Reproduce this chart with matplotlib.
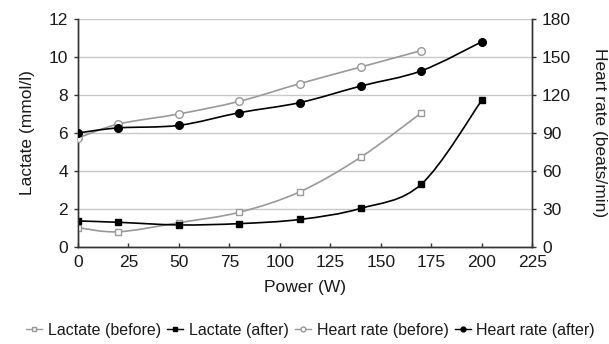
import matplotlib
matplotlib.use('Agg')
import matplotlib.pyplot as plt
from matplotlib.path import Path
from matplotlib.patches import PathPatch
from matplotlib.lines import Line2D
import numpy as np

plt.rcParams['font.family'] = ['Liberation Sans', 'DejaVu Sans']

# Data
power_before = [0, 20, 50, 80, 110, 140, 170]
power_after = [0, 20, 50, 80, 110, 140, 170, 200]
lactate_before = [1.02, 0.8, 1.28, 1.83, 2.91, 4.72, 7.05]
lactate_after = [1.37, 1.3, 1.16, 1.23, 1.45, 2.03, 3.3, 7.72]
hr_before = [86, 97, 105, 115, 129, 142, 155]
hr_after = [90, 94, 96, 106, 114, 127, 139, 162]

GREY = '#999999'
DARK = '#333333'
TXT = '#1a1a1a'


def smooth_path(x, y):
    # Excel-like smoothed line: cubic Bezier segments through each point
    pts = np.column_stack([x, y]).astype(float)
    n = len(pts)
    verts = [pts[0]]
    codes = [Path.MOVETO]
    for i in range(n - 1):
        p0 = pts[i - 1] if i > 0 else pts[i]
        p1 = pts[i]
        p2 = pts[i + 1]
        p3 = pts[i + 2] if i + 2 < n else pts[i + 1]
        c1 = p1 + (p2 - p0) / 6
        c2 = p2 - (p3 - p1) / 6
        verts += [c1, c2, p2]
        codes += [Path.CURVE4] * 3
    return Path(verts, codes)


def draw(ax, x, y, color, marker, face, ms):
    ax.add_patch(PathPatch(smooth_path(x, y), facecolor='none',
                           edgecolor=color, lw=1.2, zorder=3))
    ax.plot(x, y, linestyle='none', marker=marker, ms=ms, mfc=face,
            mec=color, mew=1.0, zorder=4)


fig = plt.figure(figsize=(6.09, 3.44), dpi=100)
ax = fig.add_axes([0.128, 0.282, 0.746, 0.663])
ax2 = ax.twinx()

ax.set_xlim(0, 225)
ax.set_ylim(0, 12)
ax2.set_ylim(0, 180)
ax.set_xticks(range(0, 226, 25))
ax.set_yticks(range(0, 13, 2))
ax2.set_yticks(range(0, 181, 30))

ax.yaxis.grid(True, color='#c8c8c8', lw=1.0)
ax.set_axisbelow(True)

for a in (ax, ax2):
    a.spines['top'].set_visible(False)
    for s in ('left', 'right', 'bottom'):
        a.spines[s].set_color(DARK)
        a.spines[s].set_linewidth(1.0)
    a.tick_params(labelsize=12.5, length=3, width=1.0, color=DARK,
                  labelcolor=TXT, pad=4)
ax.tick_params(axis='x', direction='in', pad=6)

draw(ax, power_before, lactate_before, GREY, 's', 'white', 5)
draw(ax, power_after, lactate_after, 'black', 's', 'black', 5)
draw(ax2, power_before, hr_before, GREY, 'o', 'white', 5.5)
draw(ax2, power_after, hr_after, 'black', 'o', 'black', 5.5)

ax.set_xlabel('Power (W)', fontsize=12.5, labelpad=7, color=TXT)
ax.set_ylabel('Lactate (mmol/l)', fontsize=12.5, labelpad=10, color=TXT)
ax2.set_ylabel('Heart rate (beats/min)', fontsize=12.5, rotation=270,
               labelpad=26, color=TXT)

handles = [
    Line2D([], [], color=GREY, marker='s', ms=3.5, mfc='white', mec=GREY, lw=1),
    Line2D([], [], color='black', marker='s', ms=3.5, mfc='black', lw=1),
    Line2D([], [], color=GREY, marker='o', ms=3.5, mfc='white', mec=GREY, lw=1),
    Line2D([], [], color='black', marker='o', ms=3.5, mfc='black', lw=1),
]
labels = ['Lactate (before)', 'Lactate (after)', 'Heart rate (before)',
          'Heart rate (after)']
fig.legend(handles, labels, loc='center', bbox_to_anchor=(0.51, 0.04),
           ncol=4, frameon=False, fontsize=11.5, handlelength=1.0,
           handletextpad=0.35, columnspacing=0.4, labelcolor=TXT)

fig.savefig('out.png', dpi=100)
